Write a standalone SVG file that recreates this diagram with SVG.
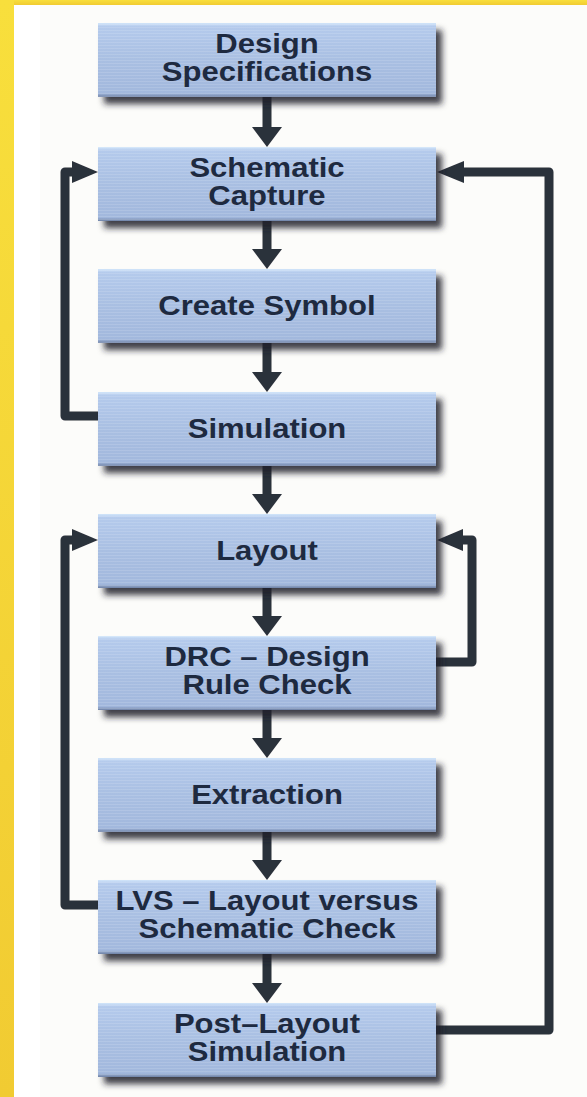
<svg xmlns="http://www.w3.org/2000/svg" width="587" height="1097" viewBox="0 0 587 1097">
  <defs>
    <linearGradient id="yellow" x1="0" y1="0" x2="0" y2="1">
      <stop offset="0" stop-color="#f8df3c"/>
      <stop offset="1" stop-color="#f1cb32"/>
    </linearGradient>
    <linearGradient id="boxfill" x1="0" y1="0" x2="0" y2="1">
      <stop offset="0" stop-color="#d2e6fa"/>
      <stop offset="0.05" stop-color="#b4caec"/>
      <stop offset="0.5" stop-color="#a9bfe2"/>
      <stop offset="0.95" stop-color="#a2b8dd"/>
      <stop offset="1" stop-color="#6f82a6"/>
    </linearGradient>
    <pattern id="stripes" width="4" height="3" patternUnits="userSpaceOnUse">
      <rect width="4" height="1" fill="#ffffff" opacity="0.12"/>
    </pattern>
    <filter id="shadow" x="-10%" y="-20%" width="130%" height="160%">
      <feDropShadow dx="6" dy="7" stdDeviation="3" flood-color="#1c2129" flood-opacity="0.85"/>
    </filter>
    <filter id="soft" x="-10%" y="-10%" width="120%" height="120%">
      <feGaussianBlur stdDeviation="0.6"/>
    </filter>
  </defs>
  <style>
    .box { fill: url(#boxfill); }
    .str { fill: url(#stripes); }
    .lbl { font-family: "Liberation Sans", Arial, sans-serif; font-weight: bold; font-size: 27px; fill: #1e2a40; text-anchor: middle; }
    .wire { fill: none; stroke: #2b303a; stroke-width: 9; stroke-linejoin: round; }
    .head { fill: #2b303a; }
  </style>

  <!-- background and frame -->
  <rect x="0" y="0" width="587" height="1097" fill="#fcfcfa"/>
  <rect x="14" y="5" width="26" height="1092" fill="#ffffff"/>
  <rect x="0" y="0" width="587" height="5" fill="url(#yellow)"/>
  <rect x="0" y="0" width="14" height="1097" fill="url(#yellow)"/>

  <!-- connectors -->
  <g id="connectors" filter="url(#soft)">
    <!-- straight down arrows -->
    <path class="wire" d="M267 97 V127"/>
    <polygon class="head" points="252,127 282,127 267,147"/>
    <path class="wire" d="M267 221 V249"/>
    <polygon class="head" points="252,249 282,249 267,269"/>
    <path class="wire" d="M267 343 V372"/>
    <polygon class="head" points="252,372 282,372 267,392"/>
    <path class="wire" d="M267 466 V494"/>
    <polygon class="head" points="252,494 282,494 267,514"/>
    <path class="wire" d="M267 588 V616"/>
    <polygon class="head" points="252,616 282,616 267,636"/>
    <path class="wire" d="M267 710 V738"/>
    <polygon class="head" points="252,738 282,738 267,758"/>
    <path class="wire" d="M267 832 V860"/>
    <polygon class="head" points="252,860 282,860 267,880"/>
    <path class="wire" d="M267 954 V983"/>
    <polygon class="head" points="252,983 282,983 267,1003"/>

    <!-- Simulation -> Schematic Capture (left loop) -->
    <path class="wire" d="M98 416 H65 V172 H74"/>
    <polygon class="head" points="72,161 72,183 98,172"/>
    <!-- Post-Layout -> Schematic Capture (right loop) -->
    <path class="wire" d="M436 1030 H549 V172 H462"/>
    <polygon class="head" points="464,161 464,183 437,172"/>
    <!-- LVS -> Layout (left loop) -->
    <path class="wire" d="M98 905 H65 V540 H74"/>
    <polygon class="head" points="72,529 72,551 98,540"/>
    <!-- DRC -> Layout (right loop) -->
    <path class="wire" d="M436 662 H472 V540 H462"/>
    <polygon class="head" points="463,529 463,551 437,540"/>
  </g>

  <!-- nodes -->
  <g id="n1">
    <rect class="box" x="98" y="23" width="338" height="74" filter="url(#shadow)"/>
    <rect class="str" x="98" y="23" width="338" height="74"/>
    <text class="lbl" transform="translate(267 53) scale(1.15 1)">Design</text>
    <text class="lbl" transform="translate(267 81) scale(1.15 1)">Specifications</text>
  </g>
  <g id="n2">
    <rect class="box" x="98" y="147" width="338" height="74" filter="url(#shadow)"/>
    <rect class="str" x="98" y="147" width="338" height="74"/>
    <text class="lbl" transform="translate(267 177) scale(1.15 1)">Schematic</text>
    <text class="lbl" transform="translate(267 205) scale(1.15 1)">Capture</text>
  </g>
  <g id="n3">
    <rect class="box" x="98" y="269" width="338" height="74" filter="url(#shadow)"/>
    <rect class="str" x="98" y="269" width="338" height="74"/>
    <text class="lbl" transform="translate(267 315) scale(1.15 1)">Create Symbol</text>
  </g>
  <g id="n4">
    <rect class="box" x="98" y="392" width="338" height="74" filter="url(#shadow)"/>
    <rect class="str" x="98" y="392" width="338" height="74"/>
    <text class="lbl" transform="translate(267 438) scale(1.15 1)">Simulation</text>
  </g>
  <g id="n5">
    <rect class="box" x="98" y="514" width="338" height="74" filter="url(#shadow)"/>
    <rect class="str" x="98" y="514" width="338" height="74"/>
    <text class="lbl" transform="translate(267 560) scale(1.15 1)">Layout</text>
  </g>
  <g id="n6">
    <rect class="box" x="98" y="636" width="338" height="74" filter="url(#shadow)"/>
    <rect class="str" x="98" y="636" width="338" height="74"/>
    <text class="lbl" transform="translate(267 666) scale(1.15 1)">DRC – Design</text>
    <text class="lbl" transform="translate(267 694) scale(1.15 1)">Rule Check</text>
  </g>
  <g id="n7">
    <rect class="box" x="98" y="758" width="338" height="74" filter="url(#shadow)"/>
    <rect class="str" x="98" y="758" width="338" height="74"/>
    <text class="lbl" transform="translate(267 804) scale(1.15 1)">Extraction</text>
  </g>
  <g id="n8">
    <rect class="box" x="98" y="880" width="338" height="74" filter="url(#shadow)"/>
    <rect class="str" x="98" y="880" width="338" height="74"/>
    <text class="lbl" transform="translate(267 910) scale(1.15 1)">LVS – Layout versus</text>
    <text class="lbl" transform="translate(267 938) scale(1.15 1)">Schematic Check</text>
  </g>
  <g id="n9">
    <rect class="box" x="98" y="1003" width="338" height="74" filter="url(#shadow)"/>
    <rect class="str" x="98" y="1003" width="338" height="74"/>
    <text class="lbl" transform="translate(267 1033) scale(1.15 1)">Post–Layout</text>
    <text class="lbl" transform="translate(267 1061) scale(1.15 1)">Simulation</text>
  </g>
</svg>
